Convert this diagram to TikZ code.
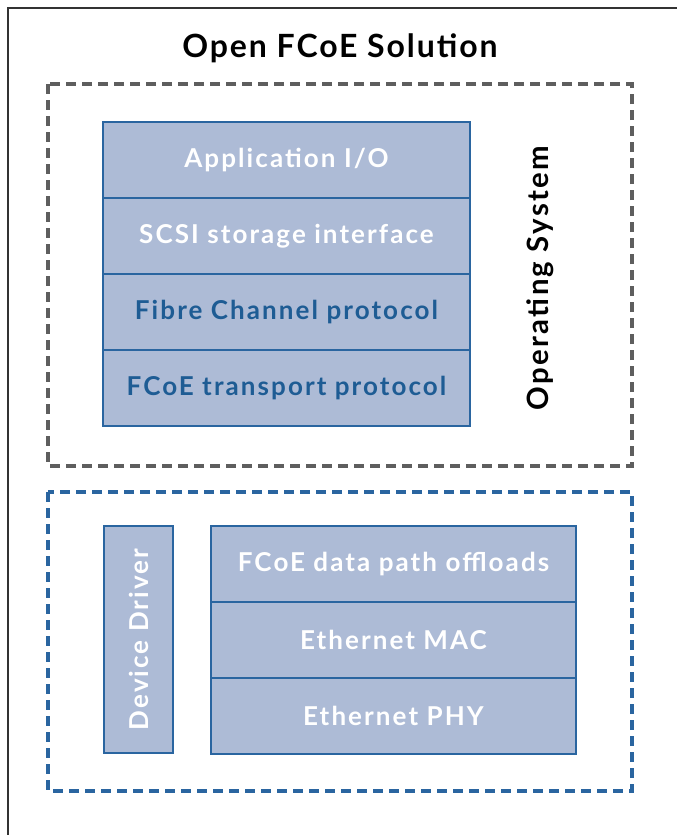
\documentclass[tikz,border=0pt]{standalone}
\usepackage{fontspec}
\setmainfont{Lato}
\newfontfamily\titlefont[LetterSpace=6]{Lato}
\newfontfamily\sidefont[LetterSpace=8]{Lato}
\newfontfamily\layerfont[LetterSpace=8]{Lato}
\usetikzlibrary{positioning}

\definecolor{layerfill}{HTML}{ADBBD6}
\definecolor{layerblue}{HTML}{2A65A0}
\definecolor{textblue}{HTML}{1E5C94}
\definecolor{dashgrey}{HTML}{5E5E5E}
\definecolor{framegrey}{HTML}{333333}

\tikzset{
  layer/.style={draw=layerblue, fill=layerfill, line width=1.3pt,
    minimum width=275pt, minimum height=57pt, inner sep=0pt, outer sep=0pt,
    text=white, font=\layerfont\fontsize{19.5}{22}\selectfont\bfseries},
  region/.style={line width=2.4pt, dash pattern=on 7.5pt off 4.5pt},
}

\begin{document}
\begin{tikzpicture}[x=0.75pt,y=-0.75pt]
    \useasboundingbox (0,0) rectangle (677,835);
    \draw[framegrey, line width=1.5pt] (8,835) -- (8,8) -- (677,8);
    \node[font=\titlefont\fontsize{24}{28}\selectfont\bfseries] (title) at (340,48) {Open FCoE Solution};
    % operating system
    \draw[region, dashgrey] (48,84) rectangle (632,466);
    \node[layer] (app) at (286.5,160) {Application I/O};
    \node[layer, below=0pt of app] (scsi) {SCSI storage interface};
    \node[layer, below=0pt of scsi, text=textblue] (fc) {Fibre Channel protocol};
    \node[layer, below=0pt of fc, text=textblue] (fcoe) {FCoE transport protocol};
    \node[rotate=90, font=\sidefont\fontsize{22}{25}\selectfont\bfseries] (os) at (540,278) {Operating System};
    % device driver / adapter
    \draw[region, layerblue] (48,492) rectangle (632,791);
    \node[layer, rotate=90, minimum width=170pt, minimum height=51.75pt] (drv) at (138.5,639.5) {Device Driver};
    \node[layer, minimum width=273.75pt] (offl) at (393.5,564) {FCoE data path offloads};
    \node[layer, minimum width=273.75pt, below=0pt of offl] (mac) {Ethernet MAC};
    \node[layer, minimum width=273.75pt, below=0pt of mac] (phy) {Ethernet PHY};
\end{tikzpicture}
\end{document}
